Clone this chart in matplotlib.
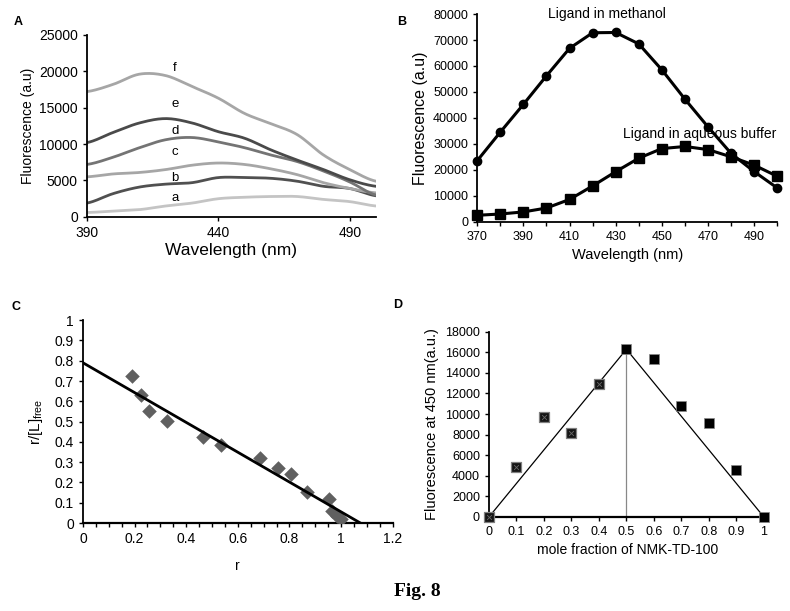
import matplotlib
matplotlib.use("Agg")
import matplotlib.pyplot as plt
import numpy as np

plt.rcParams['font.family'] = ['Liberation Sans', 'DejaVu Sans']

# ---- Panel A data ----
wl_a = [390, 400, 410, 420, 430, 440, 450, 460, 470, 480, 490, 500]
a_a = [600, 800, 1000, 1500, 1900, 2500, 2700, 2800, 2800, 2400, 2100, 1500]
a_b = [1900, 3200, 4100, 4500, 4700, 5400, 5400, 5300, 4900, 4200, 3900, 2900]
a_c = [5500, 5900, 6100, 6500, 7100, 7400, 7200, 6600, 5800, 4700, 3900, 3300]
a_d = [7200, 8200, 9500, 10600, 10900, 10300, 9500, 8500, 7600, 6300, 4800, 3000]
a_e = [10200, 11600, 12900, 13500, 12900, 11700, 10800, 9200, 7800, 6500, 5100, 4200]
a_f = [17200, 18200, 19600, 19400, 17900, 16300, 14200, 12800, 11300, 8500, 6500, 4900]
a_labels = ['a', 'b', 'c', 'd', 'e', 'f']
a_label_y = [2600, 5350, 8900, 11800, 15500, 20400]
a_colors = ['#c4c4c4', '#505050', '#a6a6a6', '#747474', '#4a4a4a', '#a6a6a6']

# ---- Panel B data ----
wl_b = [370, 380, 390, 400, 410, 420, 430, 440, 450, 460, 470, 480, 490, 500]
methanol = [23500, 34500, 45200, 56200, 66800, 72800, 72900, 68500, 58500, 47200, 36500, 26300, 19300, 13000]
aqueous = [2500, 3000, 3800, 5300, 8600, 13800, 19300, 24500, 28200, 29000, 27800, 25000, 21800, 17500]

# ---- Panel C data ----
r_vals = [0.19, 0.225, 0.255, 0.325, 0.465, 0.535, 0.685, 0.755, 0.805, 0.87, 0.955, 0.965, 0.985, 1.0]
rL_vals = [0.725, 0.63, 0.55, 0.505, 0.425, 0.385, 0.32, 0.27, 0.24, 0.155, 0.12, 0.06, 0.035, 0.02]
fit_intercept = 0.79
fit_xintercept = 1.075

# ---- Panel D data ----
mole_frac = [0, 0.1, 0.2, 0.3, 0.4, 0.5, 0.6, 0.7, 0.8, 0.9, 1.0]
fluor_450 = [0, 4900, 9750, 8150, 12900, 16300, 15350, 10800, 9150, 4550, 0]

fig = plt.figure(figsize=(7.9, 6.11), dpi=100)

def smooth(x, y, n=200):
    x = np.asarray(x, float); y = np.asarray(y, float)
    xs = np.linspace(x[0], x[-1], n)
    out = []
    for i in range(len(x) - 1):
        p0 = y[max(i - 1, 0)]; p1 = y[i]; p2 = y[i + 1]; p3 = y[min(i + 2, len(y) - 1)]
        mask = (xs >= x[i]) & ((xs < x[i + 1]) | (i == len(x) - 2))
        t = (xs[mask] - x[i]) / (x[i + 1] - x[i])
        out.append(0.5 * ((2 * p1) + (-p0 + p2) * t + (2 * p0 - 5 * p1 + 4 * p2 - p3) * t ** 2
                          + (-p0 + 3 * p1 - 3 * p2 + p3) * t ** 3))
    return xs, np.concatenate(out)

# ---------------- Panel A ----------------
axA = fig.add_axes([0.110, 0.645, 0.366, 0.298])
series_a = [a_a, a_b, a_c, a_d, a_e, a_f]
for ys, c in zip(series_a, a_colors):
    xs, yy = smooth(wl_a, ys)
    axA.plot(xs, yy, color=c, lw=2.0, solid_capstyle='round')
for lab, ly in zip(a_labels, a_label_y):
    axA.text(423.6, ly, lab, fontsize=9.5, ha='center', va='center')
axA.set_xlim(390, 500)
axA.set_ylim(0, 25000)
axA.set_xticks([390, 440, 490])
axA.set_yticks(range(0, 25001, 5000))
axA.tick_params(labelsize=10, length=3, width=1, direction='out')
axA.spines['top'].set_visible(False)
axA.spines['right'].set_visible(False)
axA.spines['left'].set_linewidth(1.3)
axA.spines['bottom'].set_linewidth(1.3)
axA.set_xlabel('Wavelength (nm)', fontsize=12.5, labelpad=2)
axA.set_ylabel('Fluorescence (a.u)', fontsize=10, labelpad=3)
fig.text(14 / 790, 1 - 22 / 611, 'A', fontsize=9, fontweight='bold', va='center', ha='left')

# ---------------- Panel B ----------------
axB = fig.add_axes([0.604, 0.637, 0.380, 0.340])
axB.plot(wl_b, methanol, color='black', lw=2.2, marker='o', ms=6, clip_on=False)
axB.plot(wl_b, aqueous, color='black', lw=2.2, marker='s', ms=7.5, clip_on=False)
axB.set_xlim(370, 500)
axB.set_ylim(0, 80000)
axB.set_xticks(range(370, 501, 10))
axB.set_xticklabels([str(v) if (v - 370) % 20 == 0 else '' for v in range(370, 501, 10)])
axB.set_yticks(range(0, 80001, 10000))
axB.tick_params(labelsize=9, length=3, width=1, direction='out')
axB.spines['top'].set_visible(False)
axB.spines['right'].set_visible(False)
axB.spines['left'].set_linewidth(1.3)
axB.spines['bottom'].set_linewidth(1.3)
axB.set_xlabel('Wavelength (nm)', fontsize=10.5)
axB.set_ylabel('Fluorescence (a.u)', fontsize=11.5)
axB.text(426, 80000, 'Ligand in methanol', fontsize=10, ha='center', va='center')
axB.text(433, 34000, 'Ligand in aqueous buffer', fontsize=10, ha='left', va='center')
fig.text(397 / 790, 1 - 22 / 611, 'B', fontsize=9, fontweight='bold', va='center', ha='left')

# ---------------- Panel C ----------------
axC = fig.add_axes([0.105, 0.144, 0.392, 0.332])
axC.scatter(r_vals, rL_vals, marker='D', s=55, color='#606060', zorder=3, linewidths=0)
axC.plot([0, fit_xintercept], [fit_intercept, 0], color='black', lw=2.0, zorder=4)
axC.set_xlim(0, 1.2)
axC.set_ylim(0, 1)
axC.set_xticks(np.arange(0, 1.21, 0.2))
axC.set_xticklabels(['0', '0.2', '0.4', '0.6', '0.8', '1', '1.2'])
axC.set_xticks(np.arange(0, 1.21, 0.05), minor=True)
axC.set_yticks(np.arange(0, 1.01, 0.1))
axC.set_yticklabels(['0', '0.1', '0.2', '0.3', '0.4', '0.5', '0.6', '0.7', '0.8', '0.9', '1'])
axC.tick_params(labelsize=10, length=3, width=1, direction='out')
axC.tick_params(axis='x', which='minor', length=3, width=1, direction='out')
axC.spines['top'].set_visible(False)
axC.spines['right'].set_visible(False)
axC.spines['left'].set_linewidth(1.3)
axC.spines['bottom'].set_linewidth(1.6)
axC.set_xlabel('r', fontsize=10, labelpad=9)
axC.set_ylabel(r'r/[L]$_{\mathregular{free}}$', fontsize=11, labelpad=7)
fig.text(12 / 790, 1 - 307 / 611, 'C', fontsize=9, fontweight='bold', va='center', ha='left')

# ---------------- Panel D ----------------
axD = fig.add_axes([0.619, 0.154, 0.352, 0.303])
peak = fluor_450[5]
axD.plot([mole_frac[0], mole_frac[5], mole_frac[-1]], [fluor_450[0], peak, fluor_450[-1]],
         color='black', lw=0.9, zorder=2)
axD.plot([mole_frac[5], mole_frac[5]], [0, peak], color='#888888', lw=0.9, zorder=2)
axD.scatter(mole_frac[:5], fluor_450[:5], marker='s', s=45, color='#151515', zorder=3,
            edgecolors='#808080', linewidths=0.9, clip_on=False)
axD.scatter(mole_frac[:5], fluor_450[:5], marker='x', s=12, color='#6a6a6a', zorder=4,
            linewidths=0.6, clip_on=False)
axD.scatter(mole_frac[5:], fluor_450[5:], marker='s', s=45, color='black', zorder=3,
            edgecolors='#888888', linewidths=0.5, clip_on=False)
axD.set_xlim(0, 1.012)
axD.set_ylim(0, 18000)
axD.set_xticks(np.arange(0, 1.01, 0.1))
axD.set_xticklabels(['0', '0.1', '0.2', '0.3', '0.4', '0.5', '0.6', '0.7', '0.8', '0.9', '1'])
axD.set_yticks(range(0, 18001, 2000))
axD.tick_params(labelsize=9, length=3, width=1, direction='out')
axD.spines['top'].set_visible(False)
axD.spines['right'].set_visible(False)
axD.spines['left'].set_linewidth(1.3)
axD.spines['bottom'].set_linewidth(1.6)
axD.set_xlabel('mole fraction of NMK-TD-100', fontsize=10, labelpad=4)
axD.set_ylabel('Fluorescence at 450 nm(a.u.)', fontsize=10.5, labelpad=4)
fig.text(393 / 790, 1 - 305 / 611, 'D', fontsize=9, fontweight='bold', va='center', ha='left')

# caption
fig.text(417 / 790, 1 - 591 / 611, 'Fig. 8', fontsize=14, fontweight='bold',
         family=['Liberation Serif', 'DejaVu Serif'], ha='center', va='center')

fig.savefig('out.png', dpi=100)
